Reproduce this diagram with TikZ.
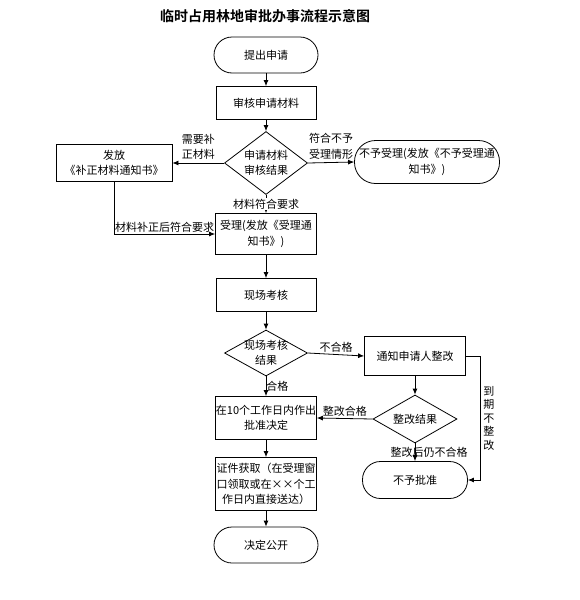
\documentclass[tikz,border=0pt]{standalone}
\usepackage{fontspec}
\setmainfont{Noto Sans CJK SC}[BoldFont={Noto Sans CJK SC Bold}]
\usetikzlibrary{shapes.geometric,arrows.meta}
\tikzset{
  base/.style={draw, line width=0.8pt, align=center, inner sep=0pt, font=\fontsize{11}{15.5}\selectfont},
  box/.style={base, rectangle},
  term/.style={base, rectangle, rounded corners=#1},
  dia/.style={draw, line width=0.8pt, diamond, inner sep=0pt},
  lbl/.style={font=\fontsize{11}{15.5}\selectfont, align=center, inner sep=1pt},
  conn/.style={line width=0.8pt, -{Latex[length=6pt,width=5pt]}},
  plain/.style={line width=0.8pt}
}
\begin{document}
\begin{tikzpicture}[x=1pt,y=-1pt]
\useasboundingbox (0,0) rectangle (580,600);
\node[font=\bfseries\fontsize{14}{16}\selectfont] (title) at (265,16) {临时占用林地审批办事流程示意图};

\node[term=18pt, minimum width=104pt, minimum height=36pt] (s1) at (266,55) {提出申请};
\node[box, minimum width=100pt, minimum height=33pt] (b1) at (266,103) {审核申请材料};
\node[dia, minimum width=83pt, minimum height=63pt, label={[lbl]center:{申请材料\\审核结果}}] (d1) at (266,163) {};
\node[box, minimum width=116pt, minimum height=37pt] (lb) at (114,163) {发放\\《补正材料通知书》};
\node[term=21pt, minimum width=145pt, minimum height=43pt] (rt) at (427,162) {不予受理(发放《不予受理通\\知书》)};
\node[box, minimum width=101pt, minimum height=41pt] (acc) at (266,234) {受理(发放《受理通\\知书》)};
\node[box, minimum width=100pt, minimum height=33pt] (site) at (266,295) {现场考核};
\node[dia, minimum width=83pt, minimum height=46pt, label={[lbl]center:{现场考核\\结果}}] (d2) at (266,353) {};
\node[box, minimum width=101pt, minimum height=39pt] (ntf) at (415,356) {通知申请人整改};
\node[box, minimum width=101pt, minimum height=43pt] (appr) at (266,418) {在10个工作日内作出\\批准决定};
\node[dia, minimum width=84pt, minimum height=48pt, label={[lbl]center:{整改结果}}] (d3) at (415,419) {};
\node[term=18pt, minimum width=105pt, minimum height=37pt] (rej) at (415,480) {不予批准};
\node[box, minimum width=101pt, minimum height=53pt] (cert) at (266,484) {证件获取（在受理窗\\口领取或在××个工\\作日内直接送达）};
\node[term=18pt, minimum width=104pt, minimum height=36pt] (pub) at (266,545) {决定公开};

\coordinate (c1) at (480,356);

\draw[conn] (s1) -- (b1);
\draw[conn] (b1) -- (d1);
\draw[conn] (d1.west) -- (lb.east) node[lbl, midway, above=2pt] {需要补\\正材料};
\draw[conn] (d1.east) -- (rt.west) node[lbl, midway, above=2pt] {符合不予\\受理情形};
\draw[conn] (d1.south) -- (acc.north) node[lbl, midway, fill=white] {材料符合要求};
\draw[conn] (lb.south) |- (acc.west) node[lbl, pos=0.75, above=0pt] {材料补正后符合要求};
\draw[conn] (acc) -- (site);
\draw[conn] (site) -- (d2);
\draw[conn] (d2.east) -- (ntf.west) node[lbl, midway, above=1pt] {不合格};
\draw[conn] (d2.south) -- (appr.north) node[lbl, midway, anchor=west, xshift=-1pt] {合格};
\draw[conn] (ntf) -- (d3);
\draw[conn] (d3.west) -- (appr.east) node[lbl, midway, above=1pt] {整改合格};
\draw[conn] (d3.south) -- (rej.north) node[lbl, midway, xshift=14pt] {整改后仍不合格};
\draw[plain] (ntf.east) -- (c1);
\draw[conn] (c1) |- (rej.east) node[lbl, pos=0.25, right=2pt, font=\fontsize{11}{13.5}\selectfont] {到\\期\\不\\整\\改};
\draw[conn] (appr) -- (cert);
\draw[conn] (cert) -- (pub);
\end{tikzpicture}
\end{document}
